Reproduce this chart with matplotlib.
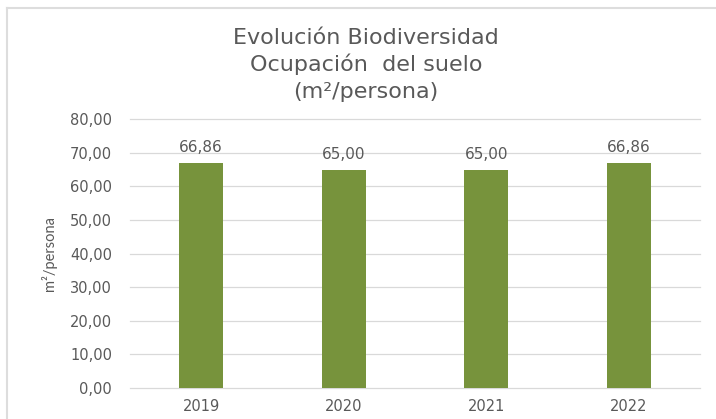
import matplotlib.pyplot as plt
import numpy as np

years = ["2019", "2020", "2021", "2022"]
values = [66.86, 65.00, 65.00, 66.86]
yticks = [0, 10, 20, 30, 40, 50, 60, 70, 80]

GREEN = "#77933C"
GREY_TXT = "#595959"
GRID = "#D9D9D9"

plt.rcParams['font.family'] = ['DejaVu Sans']

fig = plt.figure(figsize=(7.16, 4.19), dpi=100)
ax = fig.add_axes([130/716, 1 - 388/419, 570/716, (388 - 119.3)/419])

x = np.arange(len(years))
bars = ax.bar(x, values, width=0.31, color=GREEN, zorder=3)
ax.set_xlim(-0.5, len(years) - 0.5)
ax.set_ylim(0, 80)
ax.set_yticks(yticks)
ax.set_yticklabels([f"{v:.2f}".replace(".", ",") for v in yticks])
ax.set_xticks(x)
ax.set_xticklabels(years)
ax.tick_params(axis='both', length=0, labelsize=10.5, colors=GREY_TXT)
ax.tick_params(axis='y', pad=13)
ax.tick_params(axis='x', pad=8)
ax.grid(axis='y', color=GRID, linewidth=0.9, zorder=0)
for gl in ax.get_ygridlines():
    gl.set_clip_on(False)
for s in ax.spines.values():
    s.set_visible(False)

for b, v in zip(bars, values):
    ax.annotate(f"{v:.2f}".replace(".", ","), (b.get_x() + b.get_width()/2, v),
                xytext=(0, 11), textcoords='offset pixels', ha='center', va='baseline',
                fontsize=11, color=GREY_TXT)

ax.set_ylabel("m²/persona", fontsize=10.5, color=GREY_TXT, family=['Lato'])
ax.yaxis.set_label_coords(-0.128, 0.5)

# title lines
title_lines = ["Evolución Biodiversidad", "Ocupación  del suelo", "(m²/persona)"]
for i, line in enumerate(title_lines):
    fig.text(366/716, 1 - (44 + 27*i)/419, line, ha='center', va='baseline',
             fontsize=16, color=GREY_TXT)

# chart border (left and top visible)
fig.add_artist(plt.Line2D([6.5/716, 6.5/716], [0, 1 - 8.5/419], color="#DDDDDD", linewidth=1.5))
fig.add_artist(plt.Line2D([6.5/716, 1], [1 - 8.5/419, 1 - 8.5/419], color="#DDDDDD", linewidth=1.5))

fig.savefig("out.png", dpi=100)
